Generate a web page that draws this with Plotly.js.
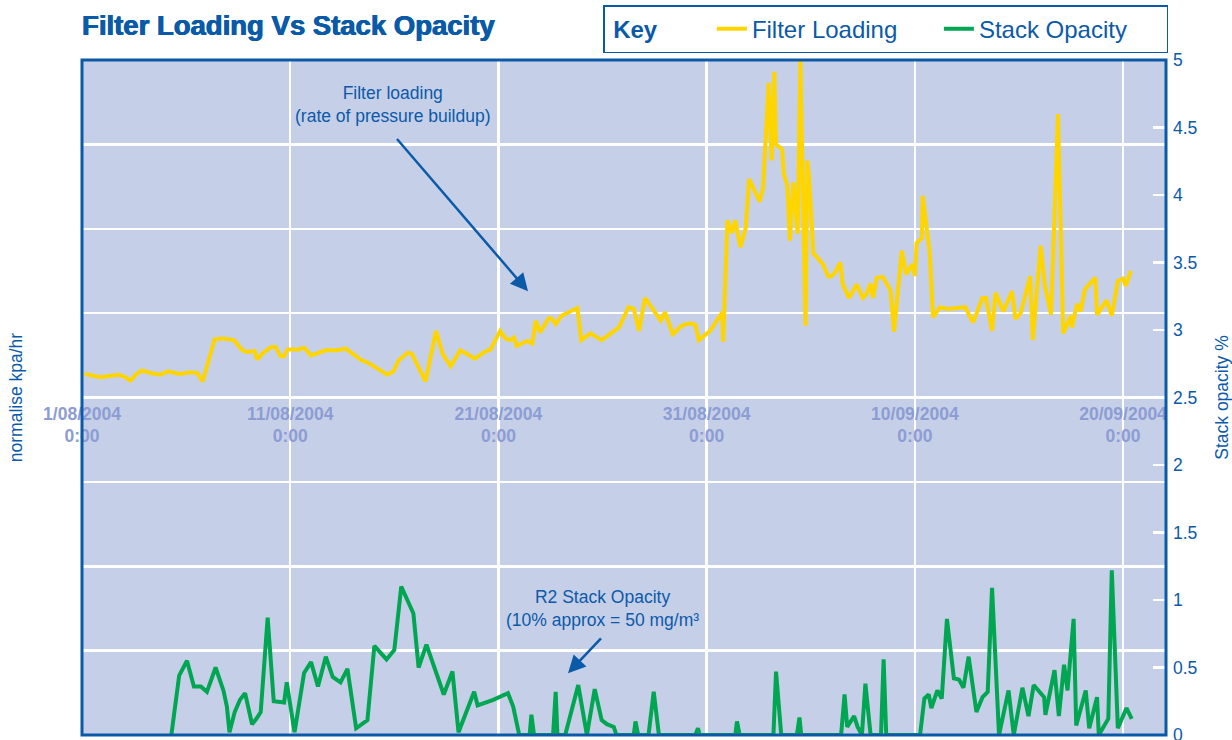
<!DOCTYPE html>
<html>
<head>
<meta charset="utf-8">
<script src="https://cdn.plot.ly/plotly-3.0.1.min.js"></script>
<style>
  html, body { margin: 0; padding: 0; background: #ffffff; }
  #chart { width: 1232px; height: 740px; }
</style>
</head>
<body>
<div id="chart"></div>
<script>
// ---------------- DATA ----------------
// Filter loading (normalised kpa/hr, left axis)
const loadingTimes = [
  "2004-08-01 03:00","2004-08-01 21:00","2004-08-02 18:00","2004-08-03 00:00","2004-08-03 08:00",
  "2004-08-03 14:00","2004-08-03 21:00","2004-08-04 07:00","2004-08-04 18:00","2004-08-05 03:00",
  "2004-08-05 16:00","2004-08-06 05:00","2004-08-06 13:00","2004-08-06 19:00","2004-08-07 09:00",
  "2004-08-07 19:00","2004-08-08 07:00","2004-08-08 17:00","2004-08-08 22:00","2004-08-09 07:00",
  "2004-08-09 10:00","2004-08-09 17:00","2004-08-10 02:00","2004-08-10 07:00","2004-08-10 13:00",
  "2004-08-10 17:00","2004-08-10 21:00","2004-08-11 10:00","2004-08-11 16:00","2004-08-12 00:00",
  "2004-08-12 17:00","2004-08-13 06:00","2004-08-13 16:00","2004-08-13 23:00","2004-08-14 09:00",
  "2004-08-14 18:00","2004-08-15 16:00","2004-08-15 23:00","2004-08-16 05:00","2004-08-16 15:00",
  "2004-08-16 20:00","2004-08-17 12:00","2004-08-18 00:00","2004-08-18 08:00","2004-08-18 17:00",
  "2004-08-19 04:00","2004-08-19 21:00","2004-08-20 08:00","2004-08-20 15:00","2004-08-21 02:00",
  "2004-08-21 08:00","2004-08-21 14:00","2004-08-21 18:00","2004-08-21 21:00","2004-08-22 09:00",
  "2004-08-22 15:00","2004-08-22 19:00","2004-08-23 00:00","2004-08-23 10:00","2004-08-23 13:00",
  "2004-08-23 18:00","2004-08-24 01:00","2004-08-24 19:00","2004-08-24 23:30","2004-08-25 10:00",
  "2004-08-25 23:00","2004-08-26 19:00","2004-08-27 06:00","2004-08-27 12:00","2004-08-27 18:00",
  "2004-08-28 01:00","2004-08-28 19:00","2004-08-29 00:00","2004-08-29 09:00","2004-08-29 19:00",
  "2004-08-30 04:00","2004-08-30 11:00","2004-08-30 15:00","2004-08-31 04:00","2004-08-31 18:00",
  "2004-08-31 19:00","2004-09-01 00:00","2004-09-01 05:00","2004-09-01 09:00","2004-09-01 15:00",
  "2004-09-01 21:00","2004-09-02 01:00","2004-09-02 13:00","2004-09-02 17:00","2004-09-02 23:30",
  "2004-09-03 03:00","2004-09-03 06:00","2004-09-03 08:00","2004-09-03 15:00","2004-09-03 17:00",
  "2004-09-03 21:00","2004-09-04 00:00","2004-09-04 04:00","2004-09-04 09:00","2004-09-04 12:00",
  "2004-09-04 18:00","2004-09-04 20:00","2004-09-04 22:00","2004-09-05 03:00","2004-09-05 08:00",
  "2004-09-05 14:00","2004-09-05 20:00","2004-09-05 23:00","2004-09-06 04:00","2004-09-06 10:00",
  "2004-09-06 13:00","2004-09-06 20:00","2004-09-07 05:00","2004-09-07 12:00","2004-09-07 16:00",
  "2004-09-07 21:00","2004-09-08 00:00","2004-09-08 04:00","2004-09-08 11:00","2004-09-08 20:00",
  "2004-09-09 00:00","2004-09-09 09:00","2004-09-09 14:00","2004-09-09 21:00","2004-09-10 00:00",
  "2004-09-10 02:00","2004-09-10 08:00","2004-09-10 09:00","2004-09-10 17:00","2004-09-10 19:00",
  "2004-09-10 21:00","2004-09-11 05:00","2004-09-11 14:00","2004-09-12 10:00","2004-09-12 19:00",
  "2004-09-13 06:00","2004-09-13 10:00","2004-09-13 17:00","2004-09-13 21:00","2004-09-14 06:00",
  "2004-09-14 16:00","2004-09-14 20:00","2004-09-15 02:00","2004-09-15 13:00","2004-09-15 16:00",
  "2004-09-16 01:00","2004-09-16 06:00","2004-09-16 13:00","2004-09-16 21:00","2004-09-17 03:00",
  "2004-09-17 12:00","2004-09-17 13:00","2004-09-17 19:00","2004-09-17 23:00","2004-09-18 04:00",
  "2004-09-18 16:00","2004-09-18 18:00","2004-09-19 05:00","2004-09-19 11:00","2004-09-19 18:00",
  "2004-09-20 00:00","2004-09-20 03:00","2004-09-20 09:00"
];
const loadingValues = [
  4.28,4.24,4.27,4.25,4.20, 4.27,4.32,4.29,4.27,4.31,
  4.28,4.30,4.29,4.19,4.69, 4.70,4.68,4.56,4.54,4.55,
  4.45,4.53,4.60,4.60,4.49, 4.49,4.57,4.57,4.59,4.50,
  4.56,4.56,4.58,4.53,4.45, 4.41,4.27,4.31,4.44,4.53,
  4.52,4.19,4.79,4.51,4.37, 4.56,4.46,4.54,4.57,4.79,
  4.70,4.68,4.71,4.61,4.67, 4.64,4.91,4.77,4.94,4.94,
  4.87,4.97,5.06,4.68,4.76, 4.68,4.83,5.07,5.05,4.79,
  5.18,4.91,5.01,4.75,4.85, 4.88,4.86,4.68,4.79,5.01,
  4.66,6.10,5.95,6.10,5.78, 6.01,6.59,6.32,6.48,7.73,
  6.81,7.86,7.00,6.94,6.65, 6.51,5.86,6.55,5.94,8.00,
  4.85,6.81,6.63,5.71,5.65, 5.58,5.44,5.43,5.48,5.60,
  5.34,5.18,5.34,5.18,5.22, 5.35,5.18,5.42,5.43,5.27,
  4.78,5.74,5.46,5.58,5.44, 5.83,5.89,6.39,5.73,5.38,
  4.95,5.07,5.05,5.07,4.89, 5.18,5.18,4.79,5.24,5.02,
  5.26,4.93,5.00,5.44,4.68, 5.80,5.32,4.98,7.36,4.76,
  4.97,4.83,5.11,5.02,5.28, 5.42,4.98,5.15,4.97,5.38,
  5.41,5.32,5.50
];

// R2 stack opacity (%, right axis)
const opacityTimes = [
  "2004-08-05 07:00","2004-08-05 16:00","2004-08-06 01:00","2004-08-06 09:00","2004-08-06 17:00",
  "2004-08-07 00:00","2004-08-07 10:00","2004-08-07 19:00","2004-08-07 23:00","2004-08-08 02:00",
  "2004-08-08 08:00","2004-08-08 14:00","2004-08-08 20:00","2004-08-09 04:00","2004-08-09 09:00",
  "2004-08-09 14:00","2004-08-09 22:00","2004-08-10 05:00","2004-08-10 17:00","2004-08-10 20:00",
  "2004-08-11 05:00","2004-08-11 16:00","2004-08-12 00:00","2004-08-12 08:00","2004-08-12 17:00",
  "2004-08-13 01:00","2004-08-13 10:00","2004-08-13 18:00","2004-08-14 04:00","2004-08-14 17:00",
  "2004-08-15 01:00","2004-08-15 15:00","2004-08-16 00:00","2004-08-16 08:00","2004-08-16 22:00",
  "2004-08-17 04:00","2004-08-17 13:00","2004-08-17 23:00","2004-08-18 09:00","2004-08-18 19:00",
  "2004-08-19 02:00","2004-08-19 20:00","2004-08-20 00:00","2004-08-20 18:00","2004-08-21 05:00",
  "2004-08-21 11:00","2004-08-21 17:00","2004-08-22 00:00","2004-08-22 12:00","2004-08-22 14:00",
  "2004-08-22 17:00","2004-08-23 15:00","2004-08-23 18:00","2004-08-23 20:00","2004-08-24 05:00",
  "2004-08-24 20:00","2004-08-25 06:00","2004-08-25 15:00","2004-08-25 23:00","2004-08-26 05:00",
  "2004-08-26 13:00","2004-08-26 16:00","2004-08-27 12:00","2004-08-27 14:00","2004-08-27 17:00",
  "2004-08-28 05:00","2004-08-28 11:00","2004-08-28 17:00","2004-08-30 11:00","2004-08-30 14:00",
  "2004-08-30 16:00","2004-09-01 09:00","2004-09-01 11:00","2004-09-01 14:00","2004-09-03 05:00",
  "2004-09-03 08:00","2004-09-03 14:00","2004-09-04 08:00","2004-09-04 11:00","2004-09-04 13:00",
  "2004-09-06 11:00","2004-09-06 15:00","2004-09-06 18:00","2004-09-07 02:00","2004-09-07 06:00",
  "2004-09-07 11:00","2004-09-07 15:00","2004-09-07 21:00","2004-09-08 09:00","2004-09-08 12:00",
  "2004-09-08 15:00","2004-09-10 06:00","2004-09-10 11:00","2004-09-10 16:00","2004-09-10 19:00",
  "2004-09-11 02:00","2004-09-11 07:00","2004-09-11 13:00","2004-09-11 21:00","2004-09-12 03:00",
  "2004-09-12 08:00","2004-09-12 14:00","2004-09-12 23:00","2004-09-13 06:00","2004-09-13 12:00",
  "2004-09-13 17:00","2004-09-14 01:00","2004-09-14 12:00","2004-09-14 18:00","2004-09-15 04:00",
  "2004-09-15 11:00","2004-09-15 17:00","2004-09-16 05:00","2004-09-16 06:30","2004-09-16 17:00",
  "2004-09-16 22:00","2004-09-17 04:00","2004-09-17 08:00","2004-09-17 15:00","2004-09-17 18:00",
  "2004-09-18 05:00","2004-09-18 09:00","2004-09-18 18:00","2004-09-18 20:00","2004-09-19 07:00",
  "2004-09-19 11:00","2004-09-19 18:00","2004-09-20 04:00","2004-09-20 10:00"
];
const opacityValues = [
  0,0.44,0.55,0.36,0.36, 0.32,0.50,0.33,0.21,0.02,
  0.17,0.26,0.31,0.08,0.12, 0.17,0.87,0.25,0.24,0.39,
  0.02,0.46,0.54,0.36,0.58, 0.43,0.39,0.49,0.05,0.11,
  0.66,0.56,0.63,1.10,0.90, 0.50,0.67,0.49,0.30,0.47,
  0.02,0.32,0.22,0.26,0.29, 0.31,0.21,0,0,0.15,
  0,0,0.32,0,0, 0.37,0,0.34,0.11,0.08,
  0.06,0,0,0.10,0, 0,0.32,0,0,0.05,
  0,0,0.10,0,0, 0.47,0,0,0.13,0,
  0,0.30,0.06,0.14,0.06, 0,0.38,0,0,0.56,
  0,0,0.27,0.30,0.20, 0.33,0.27,0.86,0.42,0.41,
  0.35,0.58,0.17,0.28,0.32, 1.09,0,0.33,0,0.35,
  0.14,0.37,0.28,0.15,0.48, 0.14,0.52,0.33,0.86,0.07,
  0.33,0.05,0.28,0,0.12, 1.22,0.05,0.20,0.12
];

// X-axis tick positions and labels
const tickDates = ["2004-08-01","2004-08-11","2004-08-21","2004-08-31","2004-09-10","2004-09-20"];
const tickLabels = ["1/08/2004<br>0:00","11/08/2004<br>0:00","21/08/2004<br>0:00",
                    "31/08/2004<br>0:00","10/09/2004<br>0:00","20/09/2004<br>0:00"];
const xRange = ["2004-08-01 00:00","2004-09-22 01:30"];
const loadingRange = [0, 8];
const opacityRange = [0, 5];

// ---------------- STYLE ----------------
const BLUE = "#0b5aa8";
const FONT = "Liberation Sans, Arial, Helvetica, sans-serif";

const traces = [
  {
    x: loadingTimes, y: loadingValues, name: "Filter Loading",
    type: "scatter", mode: "lines", yaxis: "y",
    line: { color: "#ffd500", width: 4 }
  },
  {
    x: opacityTimes, y: opacityValues, name: "Stack Opacity",
    type: "scatter", mode: "lines", yaxis: "y2",
    line: { color: "#00a651", width: 4 }
  }
];

const layout = {
  width: 1232, height: 740,
  margin: { l: 82, r: 66, t: 58, b: 5, pad: 0 },
  paper_bgcolor: "#ffffff",
  plot_bgcolor: "#c6cfe8",
  font: { family: FONT, color: BLUE, size: 17.5 },
  showlegend: true,
  title: {
    text: "Filter Loading Vs Stack Opacity",
    font: { family: FONT, size: 27.5, weight: "bold", color: BLUE,
            shadow: "0.6px 0 0 #0b5aa8, -0.4px 0 0 #0b5aa8" },
    x: 0, xref: "paper", xanchor: "left",
    y: 1 - 25 / 740, yref: "container", yanchor: "middle"
  },
  legend: {
    orientation: "h",
    x: (603 - 82) / 1084, xanchor: "left",
    y: (735 - 3) / 677, yanchor: "top",
    bgcolor: "#ffffff", bordercolor: BLUE, borderwidth: 1.5,
    font: { family: FONT, size: 24, color: BLUE },
    title: { text: "&nbsp;Key&nbsp;&nbsp;&nbsp;&nbsp;&nbsp;&nbsp;&nbsp;", font: { family: FONT, size: 24, weight: "bold", color: BLUE } },
    itemwidth: 30,
    entrywidth: 182, entrywidthmode: "pixels",
    traceorder: "normal"
  },
  xaxis: {
    type: "date",
    range: xRange,
    anchor: "free", position: 0.5,
    tickmode: "array", tickvals: tickDates, ticktext: tickLabels,
    tickfont: { family: FONT, size: 17.5, weight: "bold", color: "#8c9dd3" },
    ticks: "outside", ticklen: 0, tickcolor: "rgba(0,0,0,0)",
    showgrid: true, gridcolor: "#ffffff", gridwidth: 2.5,
    showline: false, zeroline: false, automargin: false,
    ticklabeloverflow: "allow"
  },
  yaxis: {
    range: loadingRange, dtick: 1,
    showticklabels: false, ticks: "",
    showgrid: true, gridcolor: "#ffffff", gridwidth: 2.5,
    zeroline: false, showline: false, automargin: false,
    title: { text: "normalise kpa/hr", font: { family: FONT, size: 17.5, color: BLUE }, standoff: 53 }
  },
  yaxis2: {
    overlaying: "y", side: "right", anchor: "x",
    range: opacityRange, dtick: 0.5,
    ticks: "inside", ticklen: 13, tickwidth: 2.5, tickcolor: "#ffffff",
    ticklabelstandoff: 6, ticklabeloverflow: "allow",
    tickfont: { family: FONT, size: 17.5, color: BLUE },
    showgrid: false, zeroline: false, showline: false, automargin: false,
    title: { text: "Stack opacity %", font: { family: FONT, size: 17.5, color: BLUE }, standoff: 28 }
  },
  shapes: [
    { type: "rect", xref: "paper", yref: "paper", x0: 0, x1: 1, y0: 0, y1: 1,
      line: { color: BLUE, width: 3 }, fillcolor: "rgba(0,0,0,0)", layer: "above" }
  ],
  annotations: [
    { text: "Filter loading<br>(rate of pressure buildup)", xref: "paper", yref: "paper",
      x: (393 - 82) / 1084, y: (735 - 103) / 677, xanchor: "center", yanchor: "middle",
      showarrow: false, font: { family: FONT, size: 17.5, color: BLUE } },
    { text: " ", xref: "paper", yref: "paper",
      x: (528 - 82) / 1084, y: (735 - 290) / 677, ax: -135, ay: -157,
      showarrow: true, arrowhead: 2, arrowsize: 1.4, arrowwidth: 2.5, arrowcolor: BLUE },
    { text: "R2 Stack Opacity<br>(10% approx = 50 mg/m³", xref: "paper", yref: "paper",
      x: (602 - 82) / 1084, y: (735 - 608) / 677, xanchor: "center", yanchor: "middle",
      showarrow: false, font: { family: FONT, size: 17.5, color: BLUE } },
    { text: " ", xref: "paper", yref: "paper",
      x: (568 - 82) / 1084, y: (735 - 673) / 677, ax: 37, ay: -39,
      showarrow: true, arrowhead: 2, arrowsize: 1.4, arrowwidth: 2.5, arrowcolor: BLUE }
  ],
  hovermode: false
};

Plotly.newPlot("chart", traces, layout, { displayModeBar: false, staticPlot: true });
</script>
</body>
</html>
